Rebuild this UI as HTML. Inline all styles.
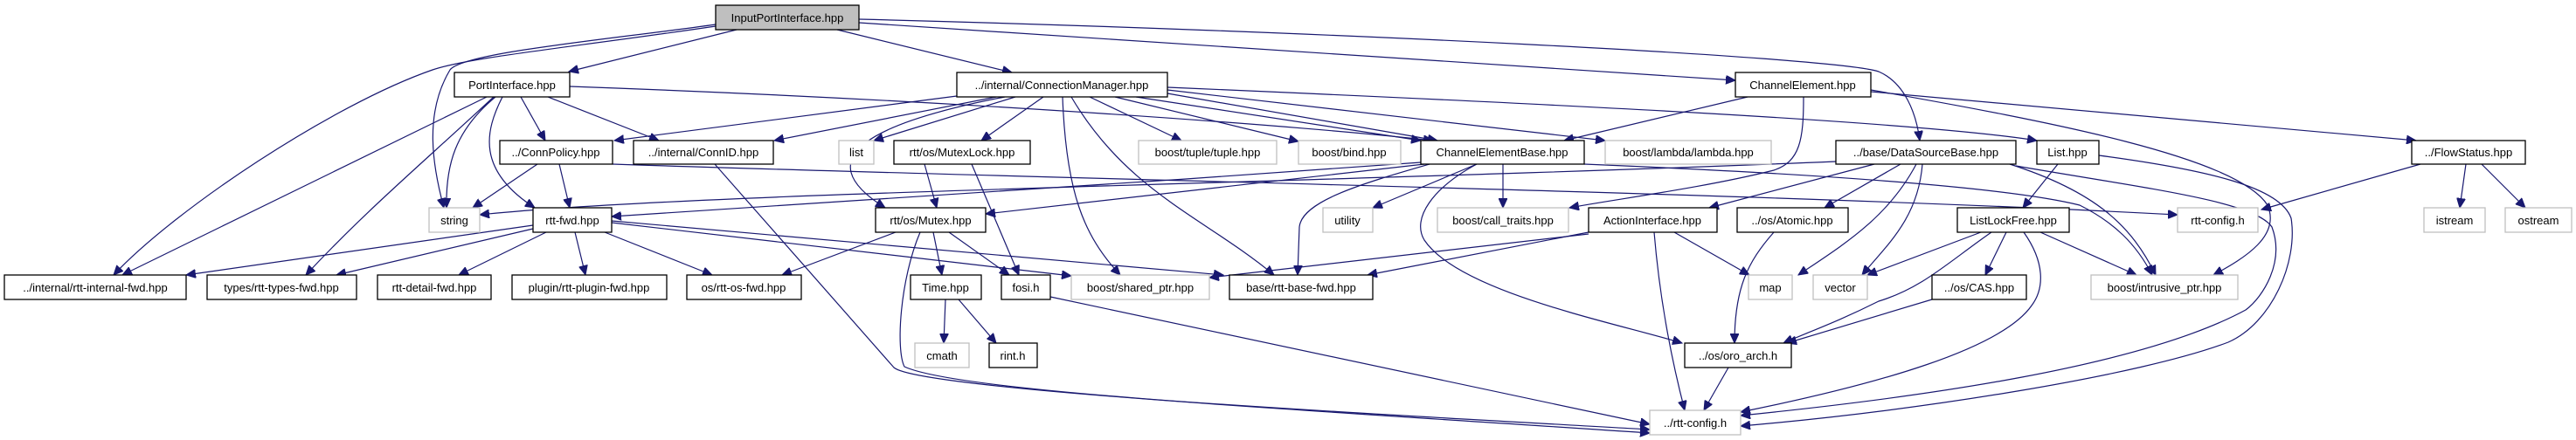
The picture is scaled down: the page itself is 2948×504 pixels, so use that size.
<!DOCTYPE html>
<html><head><meta charset="utf-8"><style>
html,body{margin:0;padding:0;background:#fff;}
svg{display:block;}
text{font-family:"Liberation Sans",sans-serif;font-size:13px;fill:#000;}
.e{fill:none;stroke:#191970;stroke-width:1.2;}
.b{fill:#fff;stroke:#000;stroke-width:1.3;}
.g{fill:#fff;stroke:#bfbfbf;stroke-width:1.3;}
</style></head><body>
<svg width="2948" height="504" viewBox="0 0 2948 504" xmlns="http://www.w3.org/2000/svg">
<defs><marker id="a" markerUnits="userSpaceOnUse" markerWidth="12" markerHeight="10" refX="11" refY="5" orient="auto"><path d="M0,0 L11,5 L0,10 z" fill="#191970" stroke="#191970"/></marker></defs>
<g marker-end="url(#a)">
<path class="e" d="M843,34 L651,82"/>
<path class="e" d="M819,28 C700,45 530,60 515,80 C485,130 495,190 508,238"/>
<path class="e" d="M819,30 C650,55 540,65 495,80 C380,120 200,240 130,315"/>
<path class="e" d="M958,34 L1158,83"/>
<path class="e" d="M983,26 L1986,92"/>
<path class="e" d="M983,22 C1500,35 2100,65 2150,82 C2180,95 2193,130 2197,161"/>
<path class="e" d="M596,111 L624,161"/>
<path class="e" d="M627,111 L754,161"/>
<path class="e" d="M575,111 C555,150 545,195 612,238"/>
<path class="e" d="M567,111 C520,150 510,190 511,238"/>
<path class="e" d="M557,111 L140,315"/>
<path class="e" d="M565,111 C480,190 420,240 350,315"/>
<path class="e" d="M652,99 C1100,115 1500,145 1640,161"/>
<path class="e" d="M615,188 L541,238"/>
<path class="e" d="M640,188 L652,238"/>
<path class="e" d="M701,188 C1200,205 2000,220 2492,246"/>
<path class="e" d="M818,188 L1023,421 C1050,445 1500,470 1888,496"/>
<path class="e" d="M610,258 L213,315"/>
<path class="e" d="M610,262 L385,315"/>
<path class="e" d="M625,266 L525,315"/>
<path class="e" d="M658,266 L670,315"/>
<path class="e" d="M692,266 L815,315"/>
<path class="e" d="M700,255 L1226,316"/>
<path class="e" d="M700,253 L1400,315"/>
<path class="e" d="M1095,110 L703,161"/>
<path class="e" d="M1140,111 L886,161"/>
<path class="e" d="M1150,111 C1000,140 920,180 1013,238"/>
<path class="e" d="M1162,111 L1000,161"/>
<path class="e" d="M1194,111 L1123,161"/>
<path class="e" d="M1216,111 C1220,220 1240,270 1282,315"/>
<path class="e" d="M1226,111 C1290,220 1380,250 1458,315"/>
<path class="e" d="M1247,111 L1352,161"/>
<path class="e" d="M1276,111 L1486,162"/>
<path class="e" d="M1300,111 L1626,161"/>
<path class="e" d="M1336,107 L1645,161"/>
<path class="e" d="M1336,103 L1837,161"/>
<path class="e" d="M1336,100 C1800,120 2200,140 2331,161"/>
<path class="e" d="M1058,188 L1072,238"/>
<path class="e" d="M1112,188 L1166,315"/>
<path class="e" d="M1025,266 L895,315"/>
<path class="e" d="M1068,266 L1078,315"/>
<path class="e" d="M1086,266 L1155,315"/>
<path class="e" d="M1053,266 C1030,320 1025,400 1035,420 C1100,450 1500,470 1888,492"/>
<path class="e" d="M1082,343 L1080,393"/>
<path class="e" d="M1097,343 L1140,393"/>
<path class="e" d="M1202,340 L1888,486"/>
<path class="e" d="M2000,111 L1790,161"/>
<path class="e" d="M2064,111 C2064,160 2060,185 2030,195 C1950,215 1850,228 1796,238"/>
<path class="e" d="M2141,103 C2350,140 2560,180 2595,235 C2610,270 2570,295 2533,315"/>
<path class="e" d="M2141,105 L2765,161"/>
<path class="e" d="M1690,188 L1571,238"/>
<path class="e" d="M1720,188 L1720,238"/>
<path class="e" d="M1636,188 C1560,210 1490,230 1487,260 L1485,315"/>
<path class="e" d="M1690,188 C1640,215 1615,250 1630,275 C1670,335 1850,370 1925,393"/>
<path class="e" d="M1630,188 L1128,245"/>
<path class="e" d="M1626,186 C1300,210 900,235 700,248"/>
<path class="e" d="M1813,188 C2100,200 2300,215 2380,235 C2420,255 2445,280 2463,315"/>
<path class="e" d="M2101,185 C1500,210 800,220 549,246"/>
<path class="e" d="M2145,188 L1956,238"/>
<path class="e" d="M2175,188 L2088,238"/>
<path class="e" d="M2193,188 C2160,250 2110,280 2058,315"/>
<path class="e" d="M2200,188 C2195,250 2160,280 2131,315"/>
<path class="e" d="M2300,188 C2400,220 2440,260 2467,315"/>
<path class="e" d="M2307,190 C2450,215 2580,230 2600,260 C2615,300 2590,340 2570,355 C2450,420 2200,455 1992,476"/>
<path class="e" d="M2402,178 C2530,195 2610,215 2622,250 C2630,300 2600,370 2550,392 C2450,430 2200,470 1992,488"/>
<path class="e" d="M2355,188 L2315,238"/>
<path class="e" d="M2267,266 L2137,315"/>
<path class="e" d="M2279,266 C2230,300 2200,330 2150,345 C2100,370 2070,380 2041,393"/>
<path class="e" d="M2296,266 L2272,315"/>
<path class="e" d="M2335,266 L2445,315"/>
<path class="e" d="M2316,266 C2340,300 2340,330 2325,350 C2290,400 2150,440 1992,472"/>
<path class="e" d="M2211,343 L2045,393"/>
<path class="e" d="M2030,266 C2000,300 1985,330 1985,393"/>
<path class="e" d="M1978,421 L1950,470"/>
<path class="e" d="M1818,266 L1565,315"/>
<path class="e" d="M1818,268 L1384,318"/>
<path class="e" d="M1916,266 L2002,315"/>
<path class="e" d="M1893,266 C1900,350 1915,420 1928,470"/>
<path class="e" d="M2770,188 L2588,240"/>
<path class="e" d="M2822,188 L2815,238"/>
<path class="e" d="M2840,188 L2890,238"/>
</g>
<g text-anchor="middle">
<rect x="819" y="6" width="164" height="28" fill="#bfbfbf" stroke="#000" stroke-width="1.3"/><text x="901" y="25">InputPortInterface.hpp</text>
<rect class="b" x="520" y="83" width="132" height="28"/><text x="586" y="102">PortInterface.hpp</text>
<rect class="b" x="1095" y="83" width="241" height="28"/><text x="1215" y="102">../internal/ConnectionManager.hpp</text>
<rect class="b" x="1986" y="83" width="155" height="28"/><text x="2063" y="102">ChannelElement.hpp</text>
<rect class="b" x="572" y="161" width="129" height="27"/><text x="636" y="179">../ConnPolicy.hpp</text>
<rect class="b" x="725" y="161" width="160" height="27"/><text x="805" y="179">../internal/ConnID.hpp</text>
<rect class="g" x="960" y="161" width="40" height="27"/><text x="980" y="179">list</text>
<rect class="b" x="1023" y="161" width="156" height="27"/><text x="1101" y="179">rtt/os/MutexLock.hpp</text>
<rect class="g" x="1303" y="161" width="158" height="27"/><text x="1382" y="179">boost/tuple/tuple.hpp</text>
<rect class="g" x="1486" y="161" width="117" height="27"/><text x="1544" y="179">boost/bind.hpp</text>
<rect class="b" x="1626" y="161" width="187" height="27"/><text x="1719" y="179">ChannelElementBase.hpp</text>
<rect class="g" x="1837" y="161" width="190" height="27"/><text x="1932" y="179">boost/lambda/lambda.hpp</text>
<rect class="b" x="2101" y="161" width="206" height="27"/><text x="2204" y="179">../base/DataSourceBase.hpp</text>
<rect class="b" x="2331" y="161" width="71" height="27"/><text x="2366" y="179">List.hpp</text>
<rect class="b" x="2760" y="161" width="130" height="27"/><text x="2825" y="179">../FlowStatus.hpp</text>
<rect class="g" x="491" y="238" width="58" height="28"/><text x="520" y="257">string</text>
<rect class="b" x="610" y="238" width="90" height="28"/><text x="655" y="257">rtt-fwd.hpp</text>
<rect class="b" x="1002" y="238" width="126" height="28"/><text x="1065" y="257">rtt/os/Mutex.hpp</text>
<rect class="g" x="1514" y="238" width="57" height="28"/><text x="1542" y="257">utility</text>
<rect class="g" x="1645" y="238" width="150" height="28"/><text x="1720" y="257">boost/call_traits.hpp</text>
<rect class="b" x="1818" y="238" width="147" height="28"/><text x="1891" y="257">ActionInterface.hpp</text>
<rect class="b" x="1988" y="238" width="127" height="28"/><text x="2051" y="257">../os/Atomic.hpp</text>
<rect class="b" x="2240" y="238" width="128" height="28"/><text x="2304" y="257">ListLockFree.hpp</text>
<rect class="g" x="2492" y="238" width="92" height="28"/><text x="2538" y="257">rtt-config.h</text>
<rect class="g" x="2774" y="238" width="70" height="28"/><text x="2809" y="257">istream</text>
<rect class="g" x="2867" y="238" width="76" height="28"/><text x="2905" y="257">ostream</text>
<rect class="b" x="5" y="315" width="208" height="28"/><text x="109" y="334">../internal/rtt-internal-fwd.hpp</text>
<rect class="b" x="237" y="315" width="171" height="28"/><text x="322" y="334">types/rtt-types-fwd.hpp</text>
<rect class="b" x="432" y="315" width="130" height="28"/><text x="497" y="334">rtt-detail-fwd.hpp</text>
<rect class="b" x="586" y="315" width="177" height="28"/><text x="674" y="334">plugin/rtt-plugin-fwd.hpp</text>
<rect class="b" x="786" y="315" width="131" height="28"/><text x="851" y="334">os/rtt-os-fwd.hpp</text>
<rect class="b" x="1042" y="315" width="81" height="28"/><text x="1082" y="334">Time.hpp</text>
<rect class="b" x="1146" y="315" width="56" height="28"/><text x="1174" y="334">fosi.h</text>
<rect class="g" x="1226" y="315" width="158" height="28"/><text x="1305" y="334">boost/shared_ptr.hpp</text>
<rect class="b" x="1407" y="315" width="164" height="28"/><text x="1489" y="334">base/rtt-base-fwd.hpp</text>
<rect class="g" x="2001" y="315" width="50" height="28"/><text x="2026" y="334">map</text>
<rect class="g" x="2075" y="315" width="62" height="28"/><text x="2106" y="334">vector</text>
<rect class="b" x="2211" y="315" width="108" height="28"/><text x="2265" y="334">../os/CAS.hpp</text>
<rect class="g" x="2393" y="315" width="168" height="28"/><text x="2477" y="334">boost/intrusive_ptr.hpp</text>
<rect class="g" x="1047" y="393" width="62" height="28"/><text x="1078" y="412">cmath</text>
<rect class="b" x="1132" y="393" width="55" height="28"/><text x="1159" y="412">rint.h</text>
<rect class="b" x="1928" y="393" width="122" height="28"/><text x="1989" y="412">../os/oro_arch.h</text>
<rect class="g" x="1888" y="470" width="104" height="28"/><text x="1940" y="489">../rtt-config.h</text>
</g>
</svg>
</body></html>
